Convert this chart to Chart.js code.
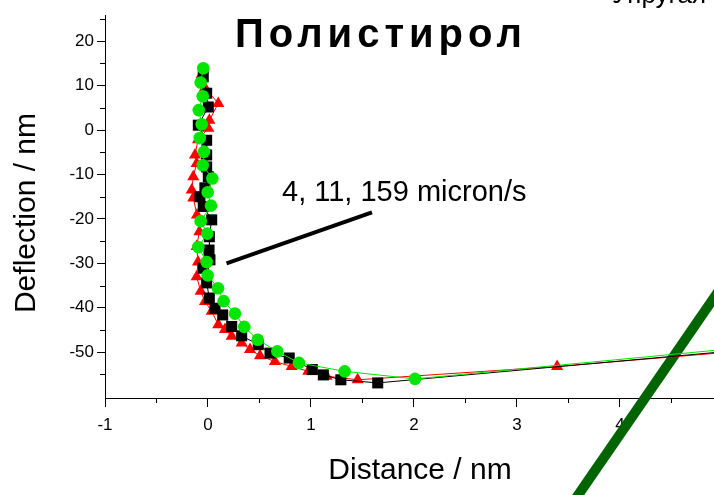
<!DOCTYPE html>
<html lang="ru">
<head>
    <meta charset="UTF-8">
    <title>Полистирол</title>
    <script src="https://cdn.jsdelivr.net/npm/chart.js"></script>
    <style>
        body { margin: 0; background: #fff; }
        #wrap { width: 714px; height: 495px; }
    </style>
</head>
<body>
<div id="wrap"><canvas id="curve" width="714" height="495"></canvas></div>

<script>
// Deflection vs distance, three approach speeds
const squaresX = [-0.046, -0.013, 0.003, -0.094, -0.013, -0.013, -0.013, 0.003, -0.03, -0.078, -0.046, 0.036, 0.013, 0.01, 0.019, -0.046, -0.013, 0.013, 0.068, 0.143, 0.23, 0.327, 0.488, 0.602, 0.789, 1.013, 1.12, 1.29, 1.648, 5.0];
const squaresY = [12.0, 8.3, 5.2, 1.1, -2.3, -5.6, -8.3, -10.5, -13.0, -15.0, -17.2, -20.2, -24.0, -27.0, -29.2, -31.1, -34.4, -37.8, -40.1, -41.6, -44.2, -46.3, -48.3, -50.2, -51.3, -53.9, -55.1, -56.2, -56.9, -49.9];

const trianglesX = [-0.061, -0.03, 0.10, 0.013, 0.003, -0.097, -0.126, -0.11, -0.143, -0.158, -0.143, -0.107, -0.084, -0.11, -0.097, -0.11, -0.071, -0.029, 0.036, 0.1, 0.165, 0.23, 0.327, 0.408, 0.505, 0.65, 0.813, 0.974, 1.152, 1.453, 3.39, 5.0];
const trianglesY = [12.5, 9.5, 6.0, 2.2, 0.4, -2.2, -5.6, -7.5, -10.5, -13.5, -15.3, -19.1, -22.9, -26.2, -29.7, -33.0, -36.3, -38.6, -40.8, -43.8, -44.9, -46.4, -47.9, -49.4, -50.8, -52.1, -53.2, -54.3, -55.4, -56.2, -53.2, -50.1];

const circlesX = [-0.046, -0.071, -0.051, -0.09, -0.061, -0.08, -0.039, -0.051, 0.042, -0.003, 0.029, -0.071, -0.007, -0.094, -0.013, -0.003, 0.097, 0.152, 0.262, 0.352, 0.483, 0.673, 0.883, 1.327, 2.01, 5.0];
const circlesY = [13.9, 10.7, 7.6, 4.5, 1.3, -1.8, -4.9, -7.9, -10.9, -14.0, -17.0, -20.5, -23.3, -26.3, -29.7, -32.7, -35.6, -38.5, -41.3, -44.3, -47.2, -49.8, -52.4, -54.3, -56.0, -49.4];

// thick "elastic" line and the label pointer
const elasticX = [3.53, 5.03];
const elasticY = [-84.3, -33.8];
const pointerX = [0.18, 1.592];
const pointerY = [-30.0, -18.5];

const xTicks = [-1, 0, 1, 2, 3, 4];
const xMinor = [-0.5, 0.5, 1.5, 2.5, 3.5, 4.5];
const yTicks = [-50, -40, -30, -20, -10, 0, 10, 20];
const yMinor = [-55, -45, -35, -25, -15, -5, 5, 15, 25];

const FONT = "'Liberation Sans', Arial, sans-serif";

function pairs(xs, ys) {
    return xs.map((x, i) => ({ x: x, y: ys[i] }));
}

// last point only carries the line to the edge
function markerSize(r) {
    return ctx => ctx.dataIndex === ctx.dataset.data.length - 1 ? 0 : r;
}

const extras = {
    id: 'extras',
    afterDraw(chart) {
        const ctx = chart.ctx;
        const xs = chart.scales.x, ys = chart.scales.y;
        ctx.save();
        ctx.strokeStyle = '#000';
        ctx.lineWidth = 1;
        ctx.beginPath();
        xMinor.forEach(v => {
            const px = Math.round(xs.getPixelForValue(v)) + 0.5;
            if (px > xs.right) return;
            ctx.moveTo(px, xs.top);
            ctx.lineTo(px, xs.top + 5);
        });
        yMinor.forEach(v => {
            const py = Math.round(ys.getPixelForValue(v)) + 0.5;
            ctx.moveTo(ys.right - 5, py);
            ctx.lineTo(ys.right, py);
        });
        ctx.stroke();

        ctx.fillStyle = '#000';
        ctx.textBaseline = 'alphabetic';
        ctx.textAlign = 'left';
        ctx.font = 'bold 40px ' + FONT;
        ctx.letterSpacing = '5px';
        ctx.fillText('Полистирол', 235, 47);
        ctx.letterSpacing = '0px';

        ctx.font = '29px ' + FONT;
        ctx.fillText('4, 11, 159 micron/s', 282, 201);

        ctx.font = '26px ' + FONT;
        ctx.fillText('Упругая', 612, 3);

        ctx.textAlign = 'center';
        ctx.font = '30px ' + FONT;
        ctx.fillText('Distance / nm', 420, 479);

        ctx.translate(35, 213);
        ctx.rotate(-Math.PI / 2);
        ctx.fillText('Deflection / nm', 0, 0);
        ctx.restore();
    }
};

new Chart(document.getElementById('curve'), {
    type: 'scatter',
    data: {
        datasets: [
            {
                data: pairs(elasticX, elasticY),
                showLine: true,
                borderColor: '#006400',
                borderWidth: 10,
                pointRadius: 0,
                clip: false,
                order: 9
            },
            {
                data: pairs(trianglesX, trianglesY),
                showLine: true,
                borderColor: '#ff0000',
                borderWidth: 1,
                backgroundColor: '#ff0000',
                pointStyle: 'triangle',
                pointRadius: markerSize(7),
                pointBorderWidth: 0,
                order: 3
            },
            {
                data: pairs(squaresX, squaresY),
                showLine: true,
                borderColor: '#000000',
                borderWidth: 1,
                backgroundColor: '#000000',
                pointStyle: 'rect',
                pointRadius: markerSize(7.8),
                pointBorderWidth: 0,
                order: 2
            },
            {
                data: pairs(circlesX, circlesY),
                showLine: true,
                borderColor: '#00e600',
                borderWidth: 1,
                backgroundColor: '#00e600',
                pointStyle: 'circle',
                pointRadius: markerSize(6.3),
                pointBorderWidth: 0,
                order: 1
            },
            {
                data: pairs(pointerX, pointerY),
                showLine: true,
                borderColor: '#000000',
                borderWidth: 4,
                pointRadius: 0,
                order: 0
            }
        ]
    },
    options: {
        responsive: false,
        animation: false,
        events: [],
        layout: { autoPadding: false, padding: { top: 15, left: 0, right: 0, bottom: 0 } },
        plugins: { legend: { display: false }, tooltip: { enabled: false } },
        scales: {
            x: {
                type: 'linear',
                min: -1,
                max: 4.913,
                afterBuildTicks: axis => { axis.ticks = xTicks.map(v => ({ value: v })); },
                afterFit: axis => { axis.height = 97; axis.paddingLeft = 0; axis.paddingRight = 0; },
                ticks: { color: '#000', font: { family: FONT, size: 17 }, padding: 8, maxRotation: 0 },
                grid: { drawOnChartArea: false, color: '#000', tickLength: 9 },
                border: { color: '#000', width: 1 }
            },
            y: {
                type: 'linear',
                min: -60.3,
                max: 25.9,
                afterBuildTicks: axis => { axis.ticks = yTicks.map(v => ({ value: v })); },
                afterFit: axis => { axis.width = 105; axis.paddingTop = 0; axis.paddingBottom = 0; },
                ticks: { color: '#000', font: { family: FONT, size: 17 }, padding: 3 },
                grid: { drawOnChartArea: false, color: '#000', tickLength: 8 },
                border: { color: '#000', width: 1 }
            }
        }
    },
    plugins: [extras]
});
</script>
</body>
</html>
